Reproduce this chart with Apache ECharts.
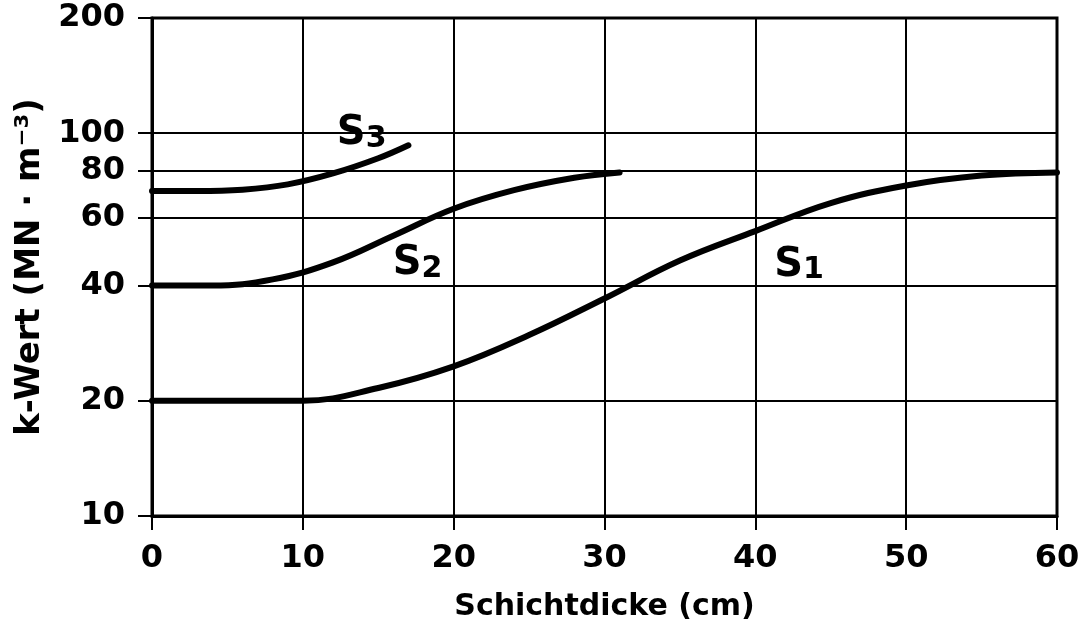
<!DOCTYPE html>
<html>
<head>
<meta charset="utf-8">
<script src="https://cdn.jsdelivr.net/npm/echarts@6/dist/echarts.min.js"></script>
<style>
  html, body { margin: 0; padding: 0; background: #fff; }
  #chart { width: 1084px; height: 631px; }
</style>
</head>
<body>
<div id="chart"></div>
<script>
// Schichtdicke (cm) vs k-Wert, log scale
const xTicks = [0, 10, 20, 30, 40, 50, 60];
const yTicks = [10, 20, 40, 60, 80, 100, 200];

const s1X = [0, 5, 10, 15, 20, 25, 30, 35, 40, 45, 50, 55, 60];
const s1Y = [20, 20, 20, 21.6, 24.6, 29.7, 37, 46.5, 55.5, 65.7, 73, 77.5, 79];

const s2X = [0, 4, 8, 12, 16, 20, 24, 28, 31];
const s2Y = [40, 40, 41.5, 46, 54, 63.5, 71, 76.5, 79];

const s3X = [0, 3, 6, 9, 12, 15, 17];
const s3Y = [70.6, 70.6, 71.2, 73.5, 78.5, 86, 93];

// curve labels: [x, y, subscript]
const curveLabels = [
  [42.9, 46.2, '1'],
  [17.6, 46.7, '2'],
  [13.9, 102, '3']
];

const FONT = 'DejaVu Sans';

const chart = echarts.init(document.getElementById('chart'), null, { renderer: 'canvas' });

const zip = (xs, ys) => xs.map((x, i) => [x, ys[i]]);

const curve = (name, xs, ys) => ({
  name: name,
  type: 'line',
  data: zip(xs, ys),
  smooth: 0.4,
  showSymbol: false,
  lineStyle: { color: '#000', width: 6, cap: 'round' },
  z: 5,
  silent: true
});

const option = {
  animation: false,
  backgroundColor: '#fff',
  grid: {
    left: 152, right: 27, top: 18, bottom: 115,
    show: true, borderColor: '#000', borderWidth: 3
  },
  xAxis: {
    type: 'value',
    min: 0, max: 60, interval: 10,
    name: 'Schichtdicke (cm)',
    nameLocation: 'middle',
    nameGap: 76,
    nameTextStyle: { fontFamily: FONT, fontSize: 30, fontWeight: 'bold', color: '#000' },
    axisLine: { lineStyle: { color: '#000', width: 3 } },
    axisTick: { show: true, inside: false, length: 14, lineStyle: { color: '#000', width: 2 } },
    axisLabel: { fontFamily: FONT, fontSize: 32, fontWeight: 'bold', color: '#000', margin: 27,
      customValues: xTicks },
    splitLine: { show: true, lineStyle: { color: '#000', width: 2 } }
  },
  yAxis: {
    type: 'log',
    logBase: 10,
    min: 10, max: 200,
    name: 'k-Wert (MN · m⁻³)',
    nameLocation: 'middle',
    nameGap: 104,
    nameTextStyle: { fontFamily: FONT, fontSize: 34, fontWeight: 'bold', color: '#000' },
    axisLine: { show: true, lineStyle: { color: '#000', width: 3 } },
    axisTick: { show: true, inside: false, length: 14, lineStyle: { color: '#000', width: 2 },
      customValues: yTicks },
    axisLabel: { fontFamily: FONT, fontSize: 32, fontWeight: 'bold', color: '#000', margin: 27,
      customValues: yTicks },
    splitLine: { show: false }
  },
  series: [
    {
      name: 'grid',
      type: 'line',
      data: [],
      markLine: {
        silent: true,
        symbol: 'none',
        label: { show: false },
        lineStyle: { color: '#000', width: 2, type: 'solid' },
        data: yTicks.map(v => ({ yAxis: v }))
      },
      z: 2
    },
    {
      name: 'labels',
      type: 'scatter',
      data: curveLabels.map(d => ({
        value: [d[0], d[1]],
        sub: d[2],
        // only the S3 label breaks the 100 grid line
        label: { backgroundColor: d[2] === '3' ? '#fff' : 'transparent' }
      })),
      symbolSize: 0,
      itemStyle: { opacity: 1, color: '#000' },
      silent: true,
      z: 4,
      label: {
        show: true,
        position: 'inside',
        color: '#000',
        formatter: p => '{s|S}{n|' + p.data.sub + '}',
        padding: [0, 6, 0, 6],
        rich: {
          s: { fontFamily: FONT, fontSize: 40, fontWeight: 'bold', color: '#000', verticalAlign: 'bottom' },
          n: { fontFamily: FONT, fontSize: 30, fontWeight: 'bold', color: '#000', padding: [18, 0, 0, 0] }
        }
      }
    },
    curve('S1', s1X, s1Y),
    curve('S2', s2X, s2Y),
    curve('S3', s3X, s3Y)
  ]
};

chart.setOption(option);
window.addEventListener('resize', () => chart.resize());
</script>
</body>
</html>
